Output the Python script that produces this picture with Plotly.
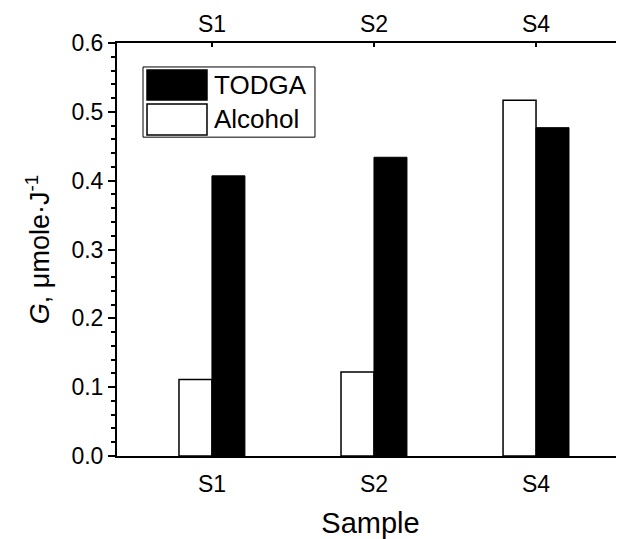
import plotly.graph_objects as go

samples = ["S1", "S2", "S4"]
positions = [1, 2, 3]
alcohol = [0.111, 0.122, 0.517]
todga = [0.407, 0.434, 0.477]
series_names = ["TODGA", "Alcohol"]
y_ticks = [0.0, 0.1, 0.2, 0.3, 0.4, 0.5, 0.6]

FONT = "Arial, Liberation Sans, sans-serif"
xr = [0.414, 3.543]

fig = go.Figure()
fig.add_trace(go.Bar(x=positions, y=alcohol, name=series_names[1],
                     marker=dict(color="white", line=dict(color="black", width=1.5)),
                     showlegend=False))
fig.add_trace(go.Bar(x=positions, y=todga, name=series_names[0],
                     marker=dict(color="black", line=dict(color="black", width=1)),
                     showlegend=False))
# invisible carrier trace so the top/right mirror axes are drawn
fig.add_trace(go.Bar(x=positions, y=todga, xaxis="x2", yaxis="y2", opacity=0,
                     hoverinfo="skip", showlegend=False))

fig.update_layout(
    width=616, height=531,
    margin=dict(l=109, r=0, t=35, b=83, autoexpand=False),
    plot_bgcolor="white", paper_bgcolor="white",
    barmode="group", bargap=0.593, bargroupgap=0,
    font=dict(family=FONT, size=23, color="black"),
    xaxis=dict(range=xr, tickvals=positions, ticktext=samples, ticks="",
               ticklabelstandoff=6,
               showline=True, linecolor="black", linewidth=2, showgrid=False,
               zeroline=False, tickfont=dict(size=23), automargin=False,
               title=dict(text="Sample", font=dict(size=29), standoff=22)),
    xaxis2=dict(range=xr, overlaying="x", side="top", tickvals=positions,
                ticktext=samples, ticks="inside", ticklen=4, tickwidth=1.5,
                tickcolor="black", showline=True, linecolor="black", linewidth=2,
                showgrid=False, zeroline=False, tickfont=dict(size=23), automargin=False),
    yaxis=dict(range=[0, 0.6], tickvals=y_ticks, tickformat=".1f", ticks="outside",
               ticklen=7, tickwidth=1.5, tickcolor="black",
               minor=dict(dtick=0.02, ticks="outside", ticklen=4, tickwidth=1.5, tickcolor="black"),
               showline=True, linecolor="black", linewidth=2, showgrid=False,
               zeroline=False, tickfont=dict(size=23), automargin=False,
               title=dict(text="<i>G</i>, μmole·J<sup>-1</sup>", font=dict(size=27), standoff=14)),
    yaxis2=dict(range=[0, 0.6], overlaying="y", side="right", tickvals=y_ticks[1:-1],
                ticks="inside", ticklen=3, tickwidth=1.5, tickcolor="black",
                showticklabels=False, showline=False, showgrid=False, zeroline=False,
                automargin=False),
)

# Custom legend (TODGA first, Alcohol second)
fig.add_shape(type="rect", xref="paper", yref="paper", x0=0.0513, x1=0.3905, y0=0.772, y1=0.942,
              line=dict(color="black", width=1), fillcolor="white", layer="above")
fig.add_shape(type="rect", xref="paper", yref="paper", x0=0.0592, x1=0.1775, y0=0.862, y1=0.9346,
              line=dict(color="black", width=1.5), fillcolor="black", layer="above")
fig.add_shape(type="rect", xref="paper", yref="paper", x0=0.0592, x1=0.1775, y0=0.777, y1=0.852,
              line=dict(color="black", width=1.5), fillcolor="white", layer="above")
fig.add_annotation(xref="paper", yref="paper", x=0.188, y=0.898, text=series_names[0],
                   showarrow=False, xanchor="left", yanchor="middle", font=dict(size=26))
fig.add_annotation(xref="paper", yref="paper", x=0.188, y=0.816, text=series_names[1],
                   showarrow=False, xanchor="left", yanchor="middle", font=dict(size=26))

fig.write_html("out.html")
